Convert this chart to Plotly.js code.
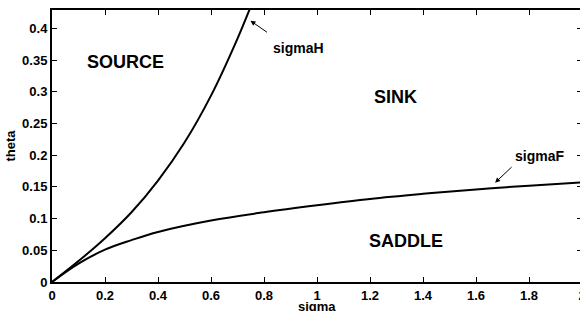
<!DOCTYPE html>
<html>
<head>
<meta charset="utf-8">
<script src="https://cdn.plot.ly/plotly-3.0.1.min.js"></script>
<style>
html,body{margin:0;padding:0;overflow:hidden;background:#fff;width:580px;height:311px;}
#chart{width:584px;height:311px;}
</style>
</head>
<body>
<div id="chart"></div>
<script>
// sigmaH curve
const sigmaH_x = [0, 0.1, 0.2, 0.3, 0.4, 0.5, 0.6, 0.7, 0.76];
const sigmaH_y = [0, 0.033, 0.069, 0.110, 0.160, 0.220, 0.294, 0.384, 0.445];
// sigmaF curve
const sigmaF_x = [0, 0.1, 0.2, 0.3, 0.4, 0.6, 0.8, 1.0, 1.2, 1.4, 1.6, 1.8, 2.0];
const sigmaF_y = [0, 0.029, 0.051, 0.066, 0.079, 0.097, 0.110, 0.121, 0.131, 0.139, 0.146, 0.152, 0.157];
const xTicks = [0, 0.2, 0.4, 0.6, 0.8, 1, 1.2, 1.4, 1.6, 1.8, 2];
const yTicks = [0, 0.05, 0.1, 0.15, 0.2, 0.25, 0.3, 0.35, 0.4];
const regionLabels = ["SOURCE", "SINK", "SADDLE"];
const regionX = [0.278, 1.298, 1.335];
const regionY = [0.347, 0.292, 0.0647];

const FONT = "Liberation Sans, Arial, Helvetica, sans-serif";

const traces = [
  {x: sigmaH_x, y: sigmaH_y, mode: 'lines', line: {color: '#000', width: 2, shape: 'spline', smoothing: 1}, name: 'sigmaH', hoverinfo: 'skip'},
  {x: sigmaF_x, y: sigmaF_y, mode: 'lines', line: {color: '#000', width: 2, shape: 'spline', smoothing: 1}, name: 'sigmaF', hoverinfo: 'skip'}
];

const annotations = [];
for (let i = 0; i < regionLabels.length; i++) {
  annotations.push({x: regionX[i], y: regionY[i], xref: 'x', yref: 'y', text: regionLabels[i], showarrow: false,
    font: {family: FONT, size: 18, color: '#000', weight: 'bold'}});
}
annotations.push({x: 0.929, y: 0.369, xref: 'x', yref: 'y', text: 'sigmaH', showarrow: false,
  font: {family: FONT, size: 14, color: '#000', weight: 'bold'}});
annotations.push({x: 1.838, y: 0.199, xref: 'x', yref: 'y', text: 'sigmaF', showarrow: false,
  font: {family: FONT, size: 14, color: '#000', weight: 'bold'}});
annotations.push({x: 0.749, y: 0.412, xref: 'x', yref: 'y', text: '', showarrow: true, ax: 18, ay: 12.5,
  arrowhead: 2, arrowsize: 1, arrowwidth: 1, arrowcolor: '#000', standoff: 0, startstandoff: 0});
annotations.push({x: 1.672, y: 0.1566, xref: 'x', yref: 'y', text: '', showarrow: true, ax: 18, ay: -17,
  arrowhead: 2, arrowsize: 1, arrowwidth: 1, arrowcolor: '#000', standoff: 0, startstandoff: 0});
// x-axis title placed as paper annotation just under the tick labels
annotations.push({x: 1, y: -0.06, xref: 'x', yref: 'paper', yanchor: 'top', text: 'sigma', showarrow: false,
  borderpad: 0, font: {family: FONT, size: 13, color: '#000', weight: 'bold'}});

const axisCommon = {
  showgrid: false, zeroline: false, showline: true, linecolor: '#000', linewidth: 2,
  mirror: 'ticks', ticks: 'inside', ticklen: 5, tickwidth: 1, tickcolor: '#000',
  tickfont: {family: FONT, size: 13, color: '#000', weight: 'bold'}
};

const layout = {
  width: 584, height: 311,
  margin: {l: 52, r: 2, t: 10, b: 29, pad: 0},
  paper_bgcolor: '#fff', plot_bgcolor: '#fff',
  showlegend: false,
  xaxis: Object.assign({}, axisCommon, {range: [0, 2], tickvals: xTicks, ticktext: xTicks.map(String),
    ticklabelstandoff: 0, ticklabeloverflow: 'allow'}),
  yaxis: Object.assign({}, axisCommon, {range: [0, 0.429], tickvals: yTicks, ticktext: yTicks.map(String),
    title: {text: 'theta', font: {family: FONT, size: 13, color: '#000', weight: 'bold'}, standoff: 4}}),
  annotations: annotations
};

Plotly.newPlot('chart', traces, layout, {staticPlot: true, displayModeBar: false});
</script>
</body>
</html>
